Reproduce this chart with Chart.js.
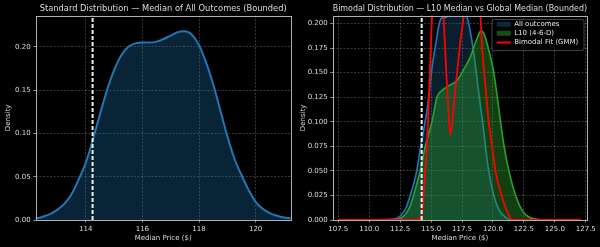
<!DOCTYPE html>
<html>
<head>
<meta charset="utf-8">
<script src="https://cdn.jsdelivr.net/npm/chart.js@4.4.1/dist/chart.umd.min.js"></script>
<style>
  html, body { margin: 0; padding: 0; background: #000; }
  #wrap { position: relative; width: 600px; height: 247px; overflow: hidden; }
  canvas { position: absolute; top: 0; }
  #left { left: 0; }
  #right { left: 295px; }
</style>
</head>
<body>
<div id="wrap">
  <canvas id="left" width="300" height="247"></canvas>
  <canvas id="right" width="305" height="247"></canvas>
</div>
<script>
// -------------------------- values

const GLOBAL_MEDIAN = 114.24;

// "All outcomes" density, left panel
const allX = [107.5, 112.25, 112.5, 112.75, 113.0, 113.25, 113.5, 113.75, 114.0, 114.25, 114.5, 114.75,
              115.0, 115.25, 115.5, 115.75, 116.0, 116.25, 116.5, 116.75, 117.0, 117.25, 117.5, 117.75,
              118.0, 118.25, 118.5, 118.75, 119.0, 119.25, 119.5, 119.75, 120.0, 120.25, 120.5, 120.75,
              121.0, 121.25, 127.1];
const allY = [0, 0.002, 0.004, 0.007, 0.012, 0.019, 0.030, 0.047, 0.066, 0.093, 0.122, 0.150,
              0.173, 0.190, 0.200, 0.204, 0.205, 0.205, 0.206, 0.209, 0.213, 0.217, 0.218, 0.214,
              0.202, 0.182, 0.157, 0.127, 0.097, 0.071, 0.052, 0.035, 0.021, 0.013, 0.008, 0.005,
              0.003, 0.002, 0];

// "All outcomes" density as drawn on the right panel
const allRX = [107.5, 112.0, 112.5, 113.0, 113.31, 113.6, 113.84, 114.16, 114.45, 114.71, 114.99, 115.2,
               115.39, 115.6, 115.8, 116.1, 116.5, 117.0, 117.4, 117.7, 117.9, 118.2, 118.5, 118.8,
               119.0, 119.17, 119.39, 119.66, 120.07, 120.5, 121.0, 121.5, 127.1];
const allRY = [0, 0.001, 0.004, 0.013, 0.025, 0.037, 0.050, 0.075, 0.095, 0.115, 0.146, 0.166,
               0.180, 0.196, 0.205, 0.206, 0.209, 0.215, 0.218, 0.214, 0.207, 0.190, 0.165, 0.135,
               0.115, 0.100, 0.075, 0.050, 0.025, 0.010, 0.003, 0, 0];

// L10 (4-6-D) density
const l10X = [107.5, 112.0, 112.6, 113.0, 113.3, 113.58, 113.85, 114.12, 114.53, 115.07, 115.48, 116.0,
              116.55, 117.1, 117.63, 118.18, 118.72, 119.04, 119.3, 119.62, 120.07, 120.35, 120.61,
              120.9, 121.29, 121.83, 122.4, 122.9, 123.5, 124.0, 127.1];
const l10Y = [0, 0, 0.002, 0.007, 0.014, 0.025, 0.037, 0.050, 0.075, 0.100, 0.125, 0.133,
              0.1375, 0.142, 0.153, 0.166, 0.185, 0.1925, 0.189, 0.175, 0.150, 0.125, 0.100,
              0.075, 0.050, 0.025, 0.009, 0.003, 0.001, 0, 0];

// Bimodal fit (GMM) - peaks run off the top of the panel
const gmmX = [107.5, 113.8, 114.2, 114.39, 114.53, 114.66, 114.85, 115.07, 115.3, 115.55, 115.8, 116.01,
              116.23, 116.34, 116.55, 116.72, 116.9, 117.1, 117.35, 117.63, 117.9, 118.3, 118.7,
              118.99, 119.13, 119.4, 119.66, 119.93, 120.2, 120.7, 121.1, 121.56, 127.1];
const gmmY = [0, 0, 0.003, 0.025, 0.050, 0.075, 0.130, 0.208, 0.260, 0.280, 0.260, 0.208,
              0.150, 0.125, 0.087, 0.100, 0.125, 0.150, 0.180, 0.208, 0.250, 0.280, 0.250,
              0.208, 0.175, 0.135, 0.100, 0.075, 0.050, 0.025, 0.010, 0, 0];

// tick labels
const leftXTicks = [114, 116, 118, 120];
const leftYTicks = [0, 0.05, 0.10, 0.15, 0.20];
const rightXTicks = [107.5, 110, 112.5, 115, 117.5, 120, 122.5, 125, 127.5];
const rightYTicks = [0, 0.025, 0.05, 0.075, 0.1, 0.125, 0.15, 0.175, 0.2];

// --------------------------- styles

const TEXT = '#dcdcdc';
const SPINE = '#b0b0b0';
const GRID = 'rgba(255, 255, 255, 0.28)';
const BLUE = '#1f77b4';
const GREEN = '#2ca02c';
const RED = '#ff0000';

Chart.defaults.font.family = "'DejaVu Sans', sans-serif";
Chart.defaults.color = TEXT;
Chart.defaults.animation = false;

function points(xs, ys) {
    return xs.map((x, i) => ({x: x, y: ys[i]}));
}

function medianLine(top) {
    return {
        label: 'median',
        data: [{x: GLOBAL_MEDIAN, y: 0}, {x: GLOBAL_MEDIAN, y: top}],
        borderColor: '#f0f0f0',
        borderWidth: 2,
        borderDash: [4, 2],
        pointRadius: 0,
        tension: 0,
        clip: 0,
        order: 0,
    };
}

function makeScales(xmin, xmax, xticks, xfmt, ymin, ymax, yticks, yfmt, yWidth) {
    const grid = {
        color: GRID,
        lineWidth: 0.8,
        tickColor: SPINE,
        tickLength: 2.5,
        tickWidth: 0.8,
        tickBorderDash: [],
    };
    return {
        x: {
            type: 'linear',
            min: xmin,
            max: xmax,
            afterBuildTicks: s => { s.ticks = xticks.map(v => ({value: v})); },
            afterFit: s => { s.height = 27; },
            ticks: { callback: xfmt, font: {size: 7}, color: TEXT, padding: 2, maxRotation: 0, autoSkip: false },
            grid: grid,
            border: { display: false, dash: [2, 1.5] },
            title: { display: true, text: 'Median Price ($)', color: TEXT, font: {size: 7}, padding: {top: 0, bottom: 4.8} },
        },
        y: {
            type: 'linear',
            min: ymin,
            max: ymax,
            afterBuildTicks: s => { s.ticks = yticks.map(v => ({value: v})); },
            afterFit: s => { s.width = yWidth; },
            ticks: { callback: yfmt, font: {size: 7}, color: TEXT, padding: 2.5, autoSkip: false },
            grid: grid,
            border: { display: false, dash: [2, 1.5] },
            title: { display: true, text: 'Density', color: TEXT, font: {size: 7}, padding: {top: 3.5, bottom: 0} },
        },
    };
}

// draws the four spines like matplotlib's axes box
const frameBox = {
    id: 'frameBox',
    afterDatasetsDraw(chart) {
        const {ctx, chartArea: a} = chart;
        ctx.save();
        ctx.strokeStyle = SPINE;
        ctx.lineWidth = 1;
        ctx.strokeRect(Math.round(a.left) + 0.5, Math.round(a.top) + 0.5,
                       Math.round(a.right - a.left), Math.round(a.bottom - a.top));
        ctx.restore();
    }
};

function titleOpts(text) {
    return {
        display: true,
        text: text,
        fullSize: false,
        color: TEXT,
        font: {size: 8.3, weight: 'normal'},
        padding: {top: 4, bottom: 1.7},
    };
}

// --------------------------- left panel

new Chart(document.getElementById('left'), {
    type: 'line',
    data: {
        datasets: [
            medianLine(1),
            {
                label: 'All outcomes',
                data: points(allX, allY),
                borderColor: BLUE,
                backgroundColor: 'rgba(31, 119, 180, 0.3)',
                borderWidth: 2,
                fill: 'origin',
                pointRadius: 0,
                cubicInterpolationMode: 'monotone',
                clip: 0,
                order: 1,
            },
        ]
    },
    options: {
        responsive: false,
        layout: { padding: {left: 0, right: 9.3, top: 0, bottom: 0} },
        scales: makeScales(112.23, 121.24, leftXTicks, v => v.toFixed(0),
                           0, 0.236, leftYTicks, v => v.toFixed(2), 35.7),
        plugins: {
            legend: { display: false },
            tooltip: { enabled: false },
            title: titleOpts('Standard Distribution — Median of All Outcomes (Bounded)'),
        },
    },
    plugins: [frameBox],
});

// --------------------------- right panel

const LEGEND_LEFT = 201.7;   // left edge of the legend handles (canvas coords)
const LEGEND_PAD = 2.2;

// puts the legend in the upper right corner of the plot, with a box behind it
const legendCorner = {
    id: 'legendCorner',
    afterLayout(chart) {
        const lg = chart.legend;
        lg.left = LEGEND_LEFT - LEGEND_PAD;
        lg.right = lg.left + lg.width + 10;
        lg.top = chart.chartArea.top + 2.8;
        lg.bottom = chart.chartArea.bottom;
    },
    beforeDatasetsDraw(chart) {
        const ctx = chart.ctx;
        ctx.save();
        ctx.beginPath();
        ctx.roundRect(197, 19.5, 92, 31, 2);
        ctx.fillStyle = 'rgba(0, 0, 0, 0.8)';
        ctx.fill();
        ctx.strokeStyle = 'rgba(200, 200, 200, 0.4)';
        ctx.lineWidth = 0.8;
        ctx.stroke();
        ctx.restore();
        chart.legend.draw();
    }
};

new Chart(document.getElementById('right'), {
    type: 'line',
    data: {
        datasets: [
            medianLine(1),
            {
                label: 'Bimodal Fit (GMM)',
                data: points(gmmX, gmmY),
                borderColor: RED,
                borderWidth: 1.8,
                fill: false,
                pointRadius: 0,
                cubicInterpolationMode: 'monotone',
                clip: 0,
                order: 1,
            },
            {
                label: 'L10 (4-6-D)',
                data: points(l10X, l10Y),
                borderColor: GREEN,
                backgroundColor: 'rgba(44, 160, 44, 0.4)',
                borderWidth: 1.6,
                fill: 'origin',
                pointRadius: 0,
                cubicInterpolationMode: 'monotone',
                clip: 0,
                order: 2,
            },
            {
                label: 'All outcomes',
                data: points(allRX, allRY),
                borderColor: BLUE,
                backgroundColor: 'rgba(31, 119, 180, 0.25)',
                borderWidth: 1.6,
                fill: 'origin',
                pointRadius: 0,
                cubicInterpolationMode: 'monotone',
                clip: 0,
                order: 3,
            },
        ]
    },
    options: {
        responsive: false,
        layout: { padding: {left: 0, right: 13, top: 0, bottom: 0} },
        scales: makeScales(107.05, 127.6, rightXTicks, v => v.toFixed(1),
                           0, 0.208, rightYTicks, v => v.toFixed(3), 37.7),
        plugins: {
            tooltip: { enabled: false },
            title: titleOpts('Bimodal Distribution — L10 Median vs Global Median (Bounded)'),
            legend: {
                position: 'chartArea',
                align: 'start',
                labels: {
                    usePointStyle: true,
                    pointStyleWidth: 14,
                    boxHeight: 5,
                    padding: LEGEND_PAD,
                    color: TEXT,
                    font: {size: 7},
                    generateLabels: () => [
                        {text: 'All outcomes', fillStyle: 'rgba(31, 119, 180, 0.3)', strokeStyle: BLUE, lineWidth: 0, pointStyle: 'rect', fontColor: TEXT},
                        {text: 'L10 (4-6-D)', fillStyle: 'rgba(44, 160, 44, 0.45)', strokeStyle: GREEN, lineWidth: 0, pointStyle: 'rect', fontColor: TEXT},
                        {text: 'Bimodal Fit (GMM)', fillStyle: RED, strokeStyle: RED, lineWidth: 2, pointStyle: 'line', fontColor: TEXT},
                    ],
                },
            },
        },
    },
    plugins: [frameBox, legendCorner],
});
</script>
</body>
</html>
